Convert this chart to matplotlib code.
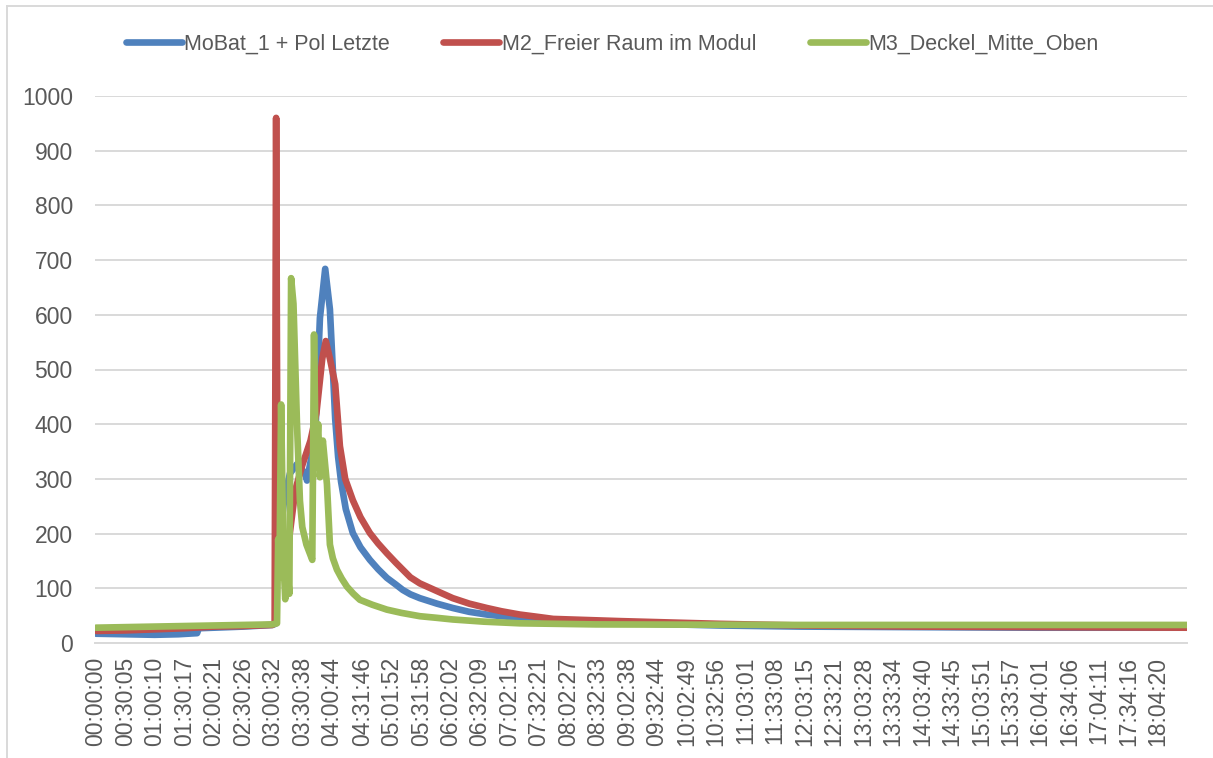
import matplotlib
matplotlib.use("Agg")
import matplotlib.pyplot as plt
from matplotlib.lines import Line2D

# time in hours since start, temperature values
blue_t = [0, 0.5, 1.0, 1.4, 1.72, 1.75, 2.5, 3.0, 3.05, 3.08, 3.2, 3.3, 3.42, 3.56, 3.59,
          3.73, 3.81, 3.90, 3.98, 4.03, 4.07, 4.12, 4.17, 4.25, 4.37, 4.5, 4.66, 4.8,
          4.95, 5.1, 5.22, 5.35, 5.51, 5.8, 6.07, 6.35, 6.65, 6.9, 7.21, 7.5, 8.35,
          10.62, 12.0, 14.0, 16.0, 18.56]
blue_v = [17, 16, 15, 16, 18, 27, 30, 33, 35, 150, 260, 310, 327, 310, 297,
          376, 594, 684, 610, 500, 410, 340, 295, 245, 201, 175, 152, 135,
          119, 107, 97, 89, 82, 72, 64, 57, 52, 49, 46, 43, 38,
          32, 30, 29, 28, 28]

red_t = [0, 0.5, 1.0, 1.5, 2.0, 2.5, 3.0, 3.04, 3.065, 3.09, 3.15, 3.25, 3.39, 3.51,
         3.65, 3.75, 3.85, 3.91, 3.98, 4.07, 4.15, 4.24, 4.37, 4.5, 4.66, 4.8, 4.95,
         5.1, 5.22, 5.35, 5.51, 5.8, 6.07, 6.35, 6.65, 6.9, 7.21, 7.5, 7.78, 8.92,
         10.62, 12.0, 14.0, 16.0, 18.56]
red_v = [22, 23, 25, 27, 30, 31, 33, 36, 960, 190, 175, 160, 279, 325,
         370, 420, 520, 552, 520, 473, 360, 300, 261, 230, 201, 182, 164,
         147, 134, 120, 109, 95, 82, 72, 64, 58, 52, 48, 44, 40,
         35, 32, 30, 29, 28]

green_t = [0, 1.0, 2.0, 3.0, 3.08, 3.10, 3.12, 3.15, 3.19, 3.22, 3.26, 3.29, 3.32, 3.36,
           3.42, 3.47, 3.51, 3.58, 3.68, 3.71, 3.74, 3.78, 3.81, 3.86, 3.93, 3.98, 4.03,
           4.1, 4.18, 4.27, 4.38, 4.49, 4.7, 4.95, 5.2, 5.51, 5.8, 6.07, 6.6, 7.21, 8.5,
           12.0, 18.56]
green_v = [28, 30, 32, 34, 36, 190, 120, 436, 150, 80, 130, 90, 667, 620,
           400, 260, 212, 180, 152, 564, 321, 400, 303, 370, 290, 180, 155,
           134, 118, 103, 90, 79, 70, 61, 55, 49, 46, 43, 39, 36, 34,
           33, 33]

names = ["MoBat_1 + Pol Letzte", "M2_Freier Raum im Modul", "M3_Deckel_Mitte_Oben"]
colors = ["#4F81BD", "#C0504D", "#9BBB59"]

tick_labels = ["00:00:00", "00:30:05", "01:00:10", "01:30:17", "02:00:21", "02:30:26",
               "03:00:32", "03:30:38", "04:00:44", "04:31:46", "05:01:52", "05:31:58",
               "06:02:02", "06:32:09", "07:02:15", "07:32:21", "08:02:27", "08:32:33",
               "09:02:38", "09:32:44", "10:02:49", "10:32:56", "11:03:01", "11:33:08",
               "12:03:15", "12:33:21", "13:03:28", "13:33:34", "14:03:40", "14:33:45",
               "15:03:51", "15:33:57", "16:04:01", "16:34:06", "17:04:11", "17:34:16",
               "18:04:20"]
tick_pos = []
for s in tick_labels:
    h, m, sec = s.split(":")
    tick_pos.append(int(h) + int(m) / 60 + int(sec) / 3600)

plt.rcParams['font.family'] = ['Liberation Sans', 'DejaVu Sans']
txt = "#595959"
grid = "#D9D9D9"

fig = plt.figure(figsize=(12.13, 7.58), dpi=100)
ax = fig.add_axes([95 / 1213, 1 - 643 / 758, 1092 / 1213, 547 / 758])

for t, v, c in zip([blue_t, red_t, green_t], [blue_v, red_v, green_v], colors):
    ax.plot(t, v, color=c, lw=4.8, solid_joinstyle="round", solid_capstyle="round", zorder=3)

ax.set_xlim(-0.017, 18.564)
ax.set_ylim(0, 1000)
ax.set_yticks(range(0, 1001, 100))
ax.set_xticks(tick_pos)
ax.set_xticklabels(tick_labels, rotation=90)
ax.tick_params(axis="both", length=0, labelsize=16.5, colors=txt)
ax.tick_params(axis="y", pad=16)
ax.tick_params(axis="x", pad=10)
ax.yaxis.grid(True, color=grid, lw=1.4)
ax.set_axisbelow(True)
for sp in ["top", "right", "left"]:
    ax.spines[sp].set_visible(False)
ax.spines["bottom"].set_color(grid)
ax.spines["bottom"].set_linewidth(1.4)

handles = [Line2D([], [], color=c, lw=4.8, solid_capstyle="round") for c in colors]
fig.legend(handles, names, loc="center", bbox_to_anchor=(612 / 1213, 1 - 44 / 758), ncol=3,
           frameon=False, fontsize=15.5, labelcolor=txt, handlelength=2.6,
           handletextpad=0.1, columnspacing=2.5)

# chart area border (only top and left edges visible in the picture)
fig.add_artist(Line2D([7 / 1213, 1], [1 - 6 / 758, 1 - 6 / 758], color=grid, lw=1.4))
fig.add_artist(Line2D([7 / 1213, 7 / 1213], [0, 1 - 6 / 758], color=grid, lw=1.4))

fig.savefig("out.png", dpi=100)
